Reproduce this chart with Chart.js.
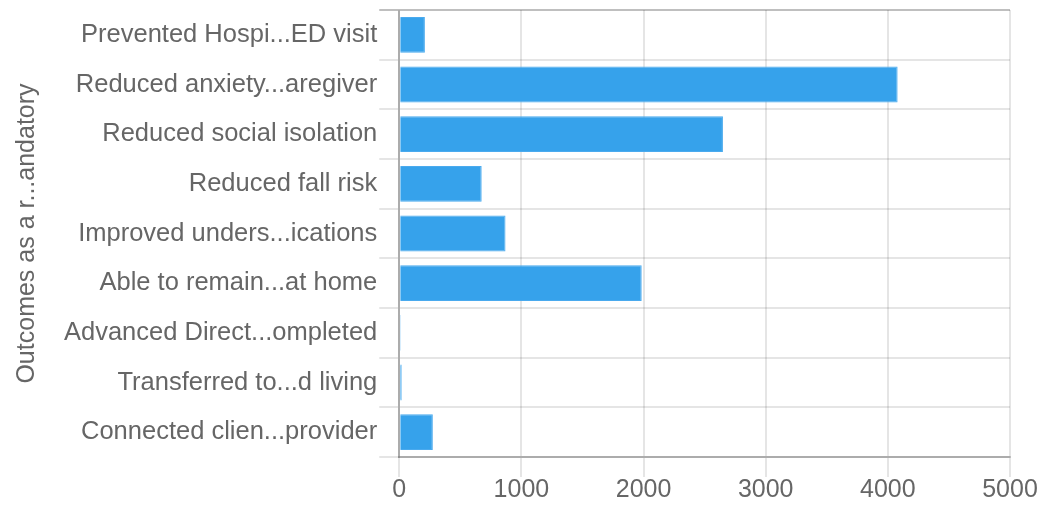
<!DOCTYPE html>
<html>
<head>
<meta charset="utf-8">
<script src="https://cdn.jsdelivr.net/npm/chart.js@4"></script>
<style>
html,body{margin:0;padding:0;background:#fff;}
#wrap{width:1039px;height:508px;}
</style>
</head>
<body>
<div id="wrap"><canvas id="c" width="1039" height="508"></canvas></div>
<script>
const categories = [
  "Prevented Hospi...ED visit",
  "Reduced anxiety...aregiver",
  "Reduced social isolation",
  "Reduced fall risk",
  "Improved unders...ications",
  "Able to remain...at home",
  "Advanced Direct...ompleted",
  "Transferred to...d living",
  "Connected clien...provider"
];
const values = [210, 4080, 2650, 675, 870, 1985, 12, 20, 275];
const xTicks = [0, 1000, 2000, 3000, 4000, 5000];
const yTitle = "Outcomes as a r...andatory";

const FONT = "'Liberation Sans', Arial, Helvetica, sans-serif";
Chart.defaults.font.family = FONT;
Chart.defaults.color = '#666';

new Chart(document.getElementById('c'), {
  type: 'bar',
  data: {
    labels: categories,
    datasets: [{
      data: values,
      backgroundColor: '#36a2eb',
      borderColor: '#4aaaee',
      borderWidth: 1,
      categoryPercentage: 0.8,
      barPercentage: 0.9
    }]
  },
  options: {
    indexAxis: 'y',
    responsive: false,
    animation: false,
    devicePixelRatio: 1,
    layout: { padding: { top: 10, right: 29, left: 8, bottom: 4 } },
    plugins: { legend: { display: false }, tooltip: { enabled: false } },
    scales: {
      x: {
        min: xTicks[0],
        max: xTicks[xTicks.length - 1],
        afterBuildTicks: (ax) => { ax.ticks = xTicks.map(v => ({ value: v })); },
        grid: { color: 'rgba(0,0,0,0.1)', lineWidth: 2, tickLength: 20 },
        border: { color: 'rgba(0,0,0,0.25)', width: 2 },
        ticks: { font: { size: 25, lineHeight: 1.0 }, padding: 1, color: '#666', maxRotation: 0, callback: (v) => String(v) }
      },
      y: {
        afterFit: (s) => { s.paddingTop = 0; s.paddingBottom = 0; },
        grid: {
          offset: true,
          color: (ctx) => ctx.index === 0 ? 'rgba(0,0,0,0.25)' : 'rgba(0,0,0,0.1)',
          lineWidth: 2,
          tickLength: 20
        },
        border: { color: 'rgba(0,0,0,0.25)', width: 2 },
        ticks: { font: { size: 25.5 }, padding: 2, color: '#666', autoSkip: false },
        title: { display: true, text: yTitle, font: { size: 25 }, color: '#666', padding: { top: 4, bottom: 20 } }
      }
    }
  }
});
</script>
</body>
</html>
